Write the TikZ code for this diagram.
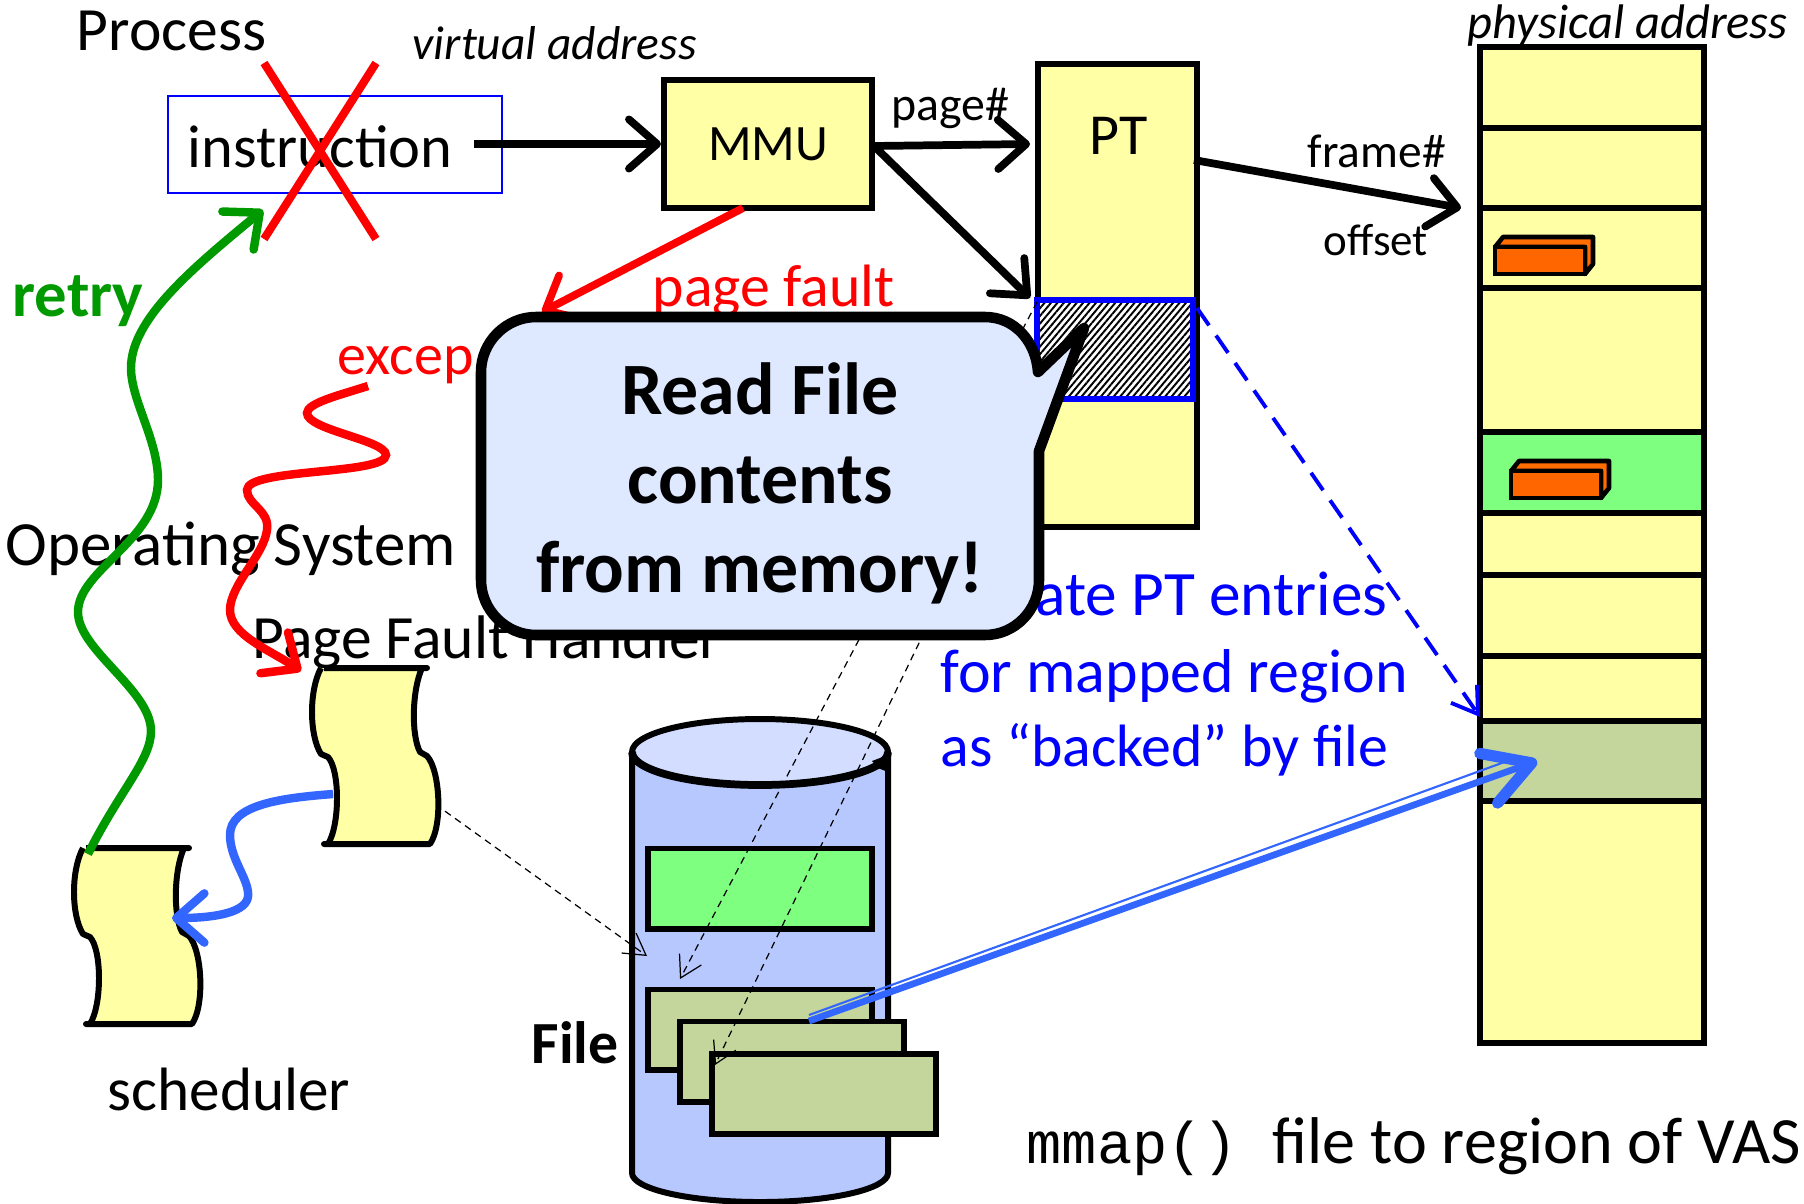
\documentclass[tikz,border=0pt]{standalone}
\usepackage{fontspec}
\setmainfont{Carlito}
\setmonofont{Liberation Mono}
\usetikzlibrary{arrows.meta,patterns.meta}
\definecolor{memyellow}{HTML}{FFFFA6}
\definecolor{memgreen}{HTML}{7FFF7F}
\definecolor{fileolive}{HTML}{C4D69B}
\definecolor{cylblue}{HTML}{B7C8FF}
\definecolor{cyltop}{HTML}{D3DDFF}
\definecolor{bubble}{HTML}{DEE8FF}
\definecolor{retrygreen}{HTML}{009900}
\definecolor{flowblue}{HTML}{3366FF}
\definecolor{blockorange}{HTML}{FF6600}
\tikzset{
	lbl/.style={anchor=base west,inner sep=0pt,font=\fontsize{#1}{#1}\selectfont},
	boldlbl/.style={anchor=base west,inner sep=0pt,font=\fontsize{#1}{#1}\bfseries\selectfont},
	itlbl/.style={anchor=base west,inner sep=0pt,font=\fontsize{#1}{#1}\itshape\selectfont},
	membox/.style={draw,line width=1.7pt,fill=memyellow,inner sep=0pt},
	filebox/.style={membox,fill=fileolive,minimum width=2.23cm,minimum height=0.80cm},
	bigarrow/.style={line width=2.2pt,-{Straight Barb[round,length=8pt,width=14pt,line width=2.2pt]}},
	wavyarrow/.style={line width=2.4pt,-{Straight Barb[round,length=8pt,width=14pt,line width=2.4pt]}},
	thinarrow/.style={dash pattern=on 2pt off 1.5pt,line width=0.35pt,-{Straight Barb[length=6pt,width=7pt,line width=0.35pt]}},
	scrollshape/.pic={
		\draw[line width=1.7pt,fill=memyellow,line join=round] (324,668) -- (427,668) -- (422,668)
			.. controls (412,690) and (411,735) .. (420,752) -- (427,756)
			.. controls (440,770) and (443,825) .. (430,844) -- (324,844) -- (328,844)
			.. controls (340,825) and (340,770) .. (328,757) -- (321,754)
			.. controls (309,735) and (309,690) .. (321,668);
	},
	orangeblock/.pic={
		\draw[line width=1.3pt,fill=orange!85!red,line join=round] (0,10) -- (8,0) -- (98,0) -- (98,27) -- (90,37) -- (90,10) -- cycle;
		\draw[line width=1.3pt,fill=blockorange] (0,10) rectangle (90,37);
	}
}
\begin{document}
\begin{tikzpicture}[x=0.01cm,y=-0.01cm]
	\useasboundingbox (0,0) rectangle (1804,1203);
	% process side
	\node[lbl=17.5] (processlbl) at (76,50) {Process};
	\node[itlbl=13.5] (virtlbl) at (412,59) {virtual address};
	\node[draw=blue,line width=0.6pt,minimum width=3.34cm,minimum height=0.97cm] (instrbox) at (335,144.5) {};
	\node[lbl=17.2] (instrlbl) at (187,167) {instruction};
	\node[membox,minimum width=2.08cm,minimum height=1.28cm] (mmu) at (768,144) {\fontsize{14.5}{16}\selectfont MMU};
	\node[membox,anchor=north,minimum width=1.59cm,minimum height=4.63cm] (pt) at (1117.5,61) {};
	\node[lbl=16.5] (ptlbl) at (1089,154) {PT};
	\node[draw=blue,line width=1.7pt,preaction={fill=white},pattern={Lines[angle=50,distance=1.4pt,line width=0.55pt]},minimum width=1.55cm,minimum height=0.98cm,inner sep=0pt] (ptentry) at (1115,349.5) {};
	\coordinate (instrout) at (474,144);
	\coordinate (mmuout) at (874,146);
	\coordinate (pgat) at (1030,144);
	\coordinate (ptout) at (1194,160);
	\coordinate (frameat) at (1461,208);
	\coordinate (faultat) at (542,312);
	\coordinate (mmubot) at (743,208);
	\coordinate (entryat) at (1030,298);
	\draw[bigarrow] (instrout) -- (mmu.west);
	\draw[bigarrow] (mmuout) -- (pgat);
	\draw[bigarrow] (mmuout) -- (entryat);
	\draw[bigarrow] (ptout) -- (frameat);
	\draw[bigarrow,red] (mmubot) -- (faultat);
	\node[lbl=13.6] (pagelbl) at (891,120) {page\#};
	\node[lbl=13.5] (framelbl) at (1307,167) {frame\#};
	\node[lbl=12.8] (offsetlbl) at (1323,255) {offset};
	% physical memory
	\node[itlbl=13.8] (physlbl) at (1467,38) {physical address};
	\node[membox,anchor=north west,minimum width=2.24cm,minimum height=9.95cm] (mem) at (1477,44) {};
	\node[membox,fill=memgreen,anchor=north west,minimum width=2.24cm,minimum height=0.81cm] (memgreen) at (1477,429) {};
	\node[membox,fill=fileolive,anchor=north west,minimum width=2.24cm,minimum height=0.80cm] (memfile) at (1477,718) {};
	\foreach \yy in {128,208,288,575,656}
		\draw[line width=1.7pt] (1480,\yy) -- (1704,\yy);
	\pic at (1495,237) {orangeblock};
	\pic at (1511,461) {orangeblock};
	% cylinder
	\draw[line width=1.7pt,fill=cylblue] (632,752) -- (632,1173) arc (180:0:128 and 29) -- (888,752);
	\draw[line width=1.7pt,fill=cyltop] (760,752) ellipse (128 and 33);
	\draw[line width=2.2pt] (632,752) arc (180:0:128 and 33);
	\coordinate (cylrim) at (888,755);
	\coordinate (rimback) at (874,763);
	\fill (cylrim) -- (872,761) -- (878,768) -- (888,772) -- cycle;
	\node[membox,fill=memgreen,minimum width=2.23cm,minimum height=0.80cm] (filegreen) at (760,888.5) {};
	\node[filebox] (fileone) at (760,1029.5) {};
	\node[filebox] (filetwo) at (792,1061.5) {};
	\node[filebox] (filethree) at (824,1094) {};
	\node[boldlbl=17] (filelbl) at (531,1063) {File};
	% dashed lines under the bubble
	\coordinate (hatchtop) at (1037,302);
	\coordinate (hatchbot) at (1037,399);
	\coordinate (fromfile) at (680,979);
	\coordinate (fromfileb) at (715,1065);
	\coordinate (handlerout) at (435,804);
	\coordinate (fileat) at (647,956);
	\draw[thinarrow] (hatchtop) -- (fromfile);
	\draw[thinarrow] (hatchbot) -- (fromfileb);
	\draw[thinarrow] (handlerout) -- (fileat);
	\coordinate (ptright) at (1197,308);
	\coordinate (memat) at (1480,717);
	\draw[blue,line width=1.1pt,dash pattern=on 6pt off 3.5pt,-{Straight Barb[length=7pt,width=9pt,line width=1.1pt]}] (ptright) -- (memat);
	% os side
	\node[lbl=17.9] (oslbl) at (5,565) {Operating System};
	\node[lbl=17.5] (pflbl) at (252,658) {Page Fault Handler};
	\node[lbl=17.4] (schedlbl) at (107,1110) {scheduler};
	\node[lbl=17,text=red] (faultlbl) at (652,306) {page fault};
	\node[lbl=16.5,text=red] (exceplbl) at (337,374) {excep};
	\node[boldlbl=18.4,text=retrygreen] (retrylbl) at (12,316) {retry};
	\node[lbl=18,text=blue] (bluea) at (1035,615) {ate PT entries};
	\node[lbl=17.6,text=blue] (blueb) at (940,692) {for mapped region};
	\node[lbl=17,text=blue] (bluec) at (940,766) {as ``backed'' by file};
	\pic at (0,0) {scrollshape};
	\pic at (-238,180) {scrollshape};
	\coordinate (handlertop) at (301,671);
	\coordinate (handlerleft) at (333,794);
	\coordinate (schedtop) at (88,854);
	\coordinate (schedright) at (172,918);
	\coordinate (instrbot) at (263,210);
	\coordinate (excepstart) at (368,386);
	\draw[wavyarrow,retrygreen] (schedtop) .. controls (120,790) and (151,760) .. (151,731) .. controls (151,690) and (78,650) .. (78,612) .. controls (78,570) and (158,540) .. (158,480) .. controls (158,440) and (131,400) .. (131,368) .. controls (131,320) and (190,270) .. (instrbot);
	\draw[wavyarrow,red] (excepstart) .. controls (340,395) and (307,403) .. (307,413) .. controls (307,430) and (386,440) .. (386,455) .. controls (386,475) and (247,468) .. (247,490) .. controls (247,505) and (270,510) .. (267,530) .. controls (264,555) and (230,585) .. (230,610) .. controls (230,635) and (270,650) .. (handlertop);
	\draw[wavyarrow,flowblue] (handlerleft) .. controls (280,798) and (230,805) .. (230,835) .. controls (230,860) and (250,880) .. (248,897) .. controls (245,915) and (205,918) .. (schedright);
	% red cross
	\coordinate (crossa) at (264,63);
	\coordinate (crossb) at (376,239);
	\coordinate (crossc) at (376,63);
	\coordinate (crossd) at (264,239);
	\draw[red,line width=2.3pt] (crossa) -- (crossb);
	\draw[red,line width=2.3pt] (crossc) -- (crossd);
	% speech bubble
	\draw[line width=3pt,fill=bubble,line join=round] (536,317) -- (985,317) .. controls (1015,317) and (1036,342) .. (1038,372) -- (1084,328) -- (1039,451) -- (1039,580) .. controls (1039,610) and (1015,635) .. (985,635) -- (536,635) .. controls (506,635) and (481,610) .. (481,580) -- (481,372) .. controls (481,342) and (506,317) .. (536,317) -- cycle;
	\node[anchor=base,inner sep=0pt,align=center,font=\fontsize{21}{25.3}\bfseries\selectfont] (bubbletext) at (760,592) {Read File\\contents\\from memory!};
	% mapped region arrow
	\coordinate (fileout) at (809,1021);
	\coordinate (memin) at (1537,761);
	\coordinate (fileoutb) at (809,1015);
	\coordinate (meminb) at (1510,760);
	\draw[flowblue,line width=0.6pt] (fileoutb) -- (meminb);
	\draw[flowblue,line width=1.9pt,-{Straight Barb[round,length=13pt,width=15pt,line width=3.2pt]}] (fileout) -- (memin);
	% caption
	\node[lbl=16.7,font=\fontsize{16.7}{18}\ttfamily\selectfont] (mmaplbl) at (1026,1163) {mmap()};
	\node[lbl=18.8] (captionlbl) at (1272,1163) {file to region of VAS};
\end{tikzpicture}
\end{document}
